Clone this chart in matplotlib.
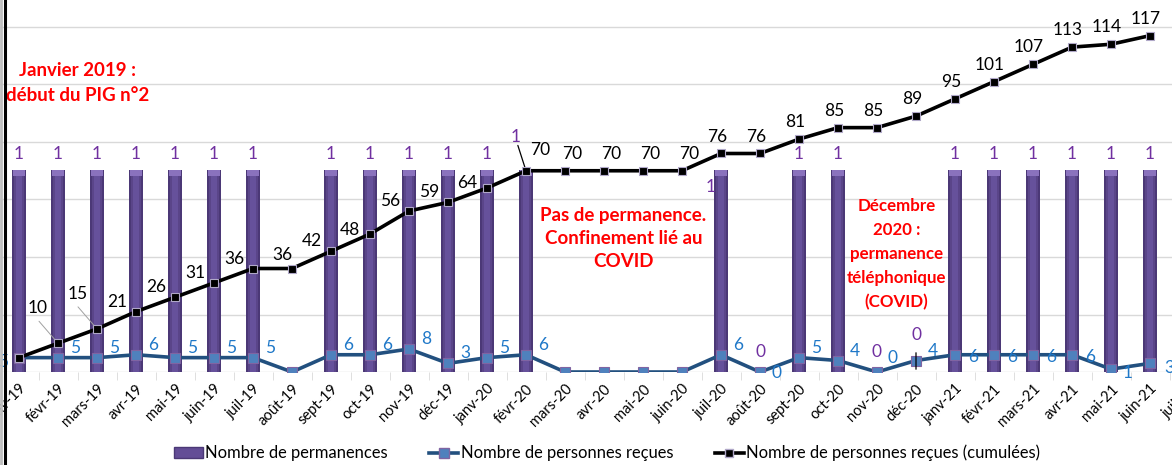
import matplotlib
matplotlib.use("Agg")
import matplotlib.pyplot as plt
import numpy as np
from matplotlib.lines import Line2D
from matplotlib.patches import Patch

plt.rcParams['font.family'] = ['Lato', 'DejaVu Sans']

months = ["janv-19", "févr-19", "mars-19", "avr-19", "mai-19", "juin-19", "juil-19", "août-19",
          "sept-19", "oct-19", "nov-19", "déc-19", "janv-20", "févr-20", "mars-20", "avr-20",
          "mai-20", "juin-20", "juil-20", "août-20", "sept-20", "oct-20", "nov-20", "déc-20",
          "janv-21", "févr-21", "mars-21", "avr-21", "mai-21", "juin-21", "juil-21"]
# None = no value / no label
permanences = [1, 1, 1, 1, 1, 1, 1, None, 1, 1, 1, 1, 1, 1, None, None, None, None,
               1, 0, 1, 1, 0, 0, 1, 1, 1, 1, 1, 1, None]
personnes = [5, 5, 5, 6, 5, 5, 5, 0, 6, 6, 8, 3, 5, 6, 0, 0, 0, 0,
             6, 0, 5, 4, 0, 4, 6, 6, 6, 6, 1, 3]
cumul = [5, 10, 15, 21, 26, 31, 36, 36, 42, 48, 56, 59, 64, 70, 70, 70, 70, 70,
         76, 76, 81, 85, 85, 89, 95, 101, 107, 113, 114, 117]

W, H = 1172, 465
fig = plt.figure(figsize=(W / 100, H / 100), dpi=100)

n = len(months)
x = np.arange(n)
ymax = 140.0
px_per_unit = 2.875
bar_unit = 70.3  # primary-axis value reached by a bar of 1
left_px = 19 - 19.5
ax = fig.add_axes([left_px / W, 93 / H, 39 * n / W, ymax * px_per_unit / H])
ax.set_xlim(-0.5, n - 0.5)
ax.set_ylim(0, ymax / bar_unit)
for s in ax.spines.values():
    s.set_visible(False)
ax.set_yticks(np.arange(0, ymax + 1, 20) / bar_unit)
ax.set_yticklabels([])
ax.tick_params(axis='y', length=0)
ax.grid(axis='y', color='#d9d9d9', linewidth=1.0)
ax.set_axisbelow(True)

# bars (cylinders)
pv = np.array([v if v is not None else 0 for v in permanences], dtype=float)
ax.bar(x, pv, width=0.37, color='#4b3876', zorder=2)
ax.bar(x, pv, width=0.27, color='#5a4589', zorder=2.1)
ax.bar(x, pv, width=0.15, color='#66519b', zorder=2.2)
cap = 0.03
ax.bar(x, np.where(pv > 0, cap, 0), bottom=pv - cap, width=0.33, color='#8a72bd', zorder=2.3)

ax.set_xticks(x)
ax.set_xticklabels(months, rotation=45, ha='right', rotation_mode='anchor', fontsize=10.5)
ax.tick_params(axis='x', which='major', length=0, pad=7)
ax.set_xticks(np.arange(n + 1) - 0.5, minor=True)
ax.tick_params(axis='x', which='minor', length=6, color='#d9d9d9')

purple = '#7030a0'
for i, v in enumerate(permanences):
    if v is None:
        continue
    if v == 1:
        dx, dy = 0, 16
        if i == 13:
            dx, dy = -10, 33
        if i == 18:
            dx, dy = -10, -17
    else:
        dx, dy = 0, 20
        if i == 23:
            dy = 37
    ax.annotate(str(v), (i, v), xytext=(dx, dy), textcoords='offset pixels',
                ha='center', va='center', color=purple, fontsize=12.5)

ax2 = ax.twinx()
ax2.set_ylim(0, ymax)
ax2.set_yticks([])
for s in ax2.spines.values():
    s.set_visible(False)

xp = np.arange(len(personnes))
ax2.plot(xp, personnes, color='#22507f', linewidth=2.6, marker='s', markersize=6.5,
         markerfacecolor='#4f81bd', markeredgecolor='#8064a2', markeredgewidth=0.8, zorder=3)
ax2.plot(xp, cumul, color='black', linewidth=2.6, marker='s', markersize=5.5,
         markerfacecolor='black', markeredgecolor='#b0a8c8', markeredgewidth=0.8, zorder=4)

blue = '#1f78c8'
blue_off = {0: (-16, -4), 19: (17, -1), 22: (16, 14), 28: (17, -4), 29: (19, -5)}
for i, v in enumerate(personnes):
    if v == 0 and i not in (19, 22):
        continue
    dx, dy = (17, 10) if i < 24 else (18, -2)
    dx, dy = blue_off.get(i, (dx, dy))
    ax2.annotate(str(v), (i, v), xytext=(dx, dy), textcoords='offset pixels',
                 ha='center', va='center', color=blue, fontsize=12.5)

cum_off = {1: (-20, 35), 2: (-19, 35), 7: (-10, 14), 9: (-20, 4), 12: (-20, 5),
           13: (14, 21), 14: (7, 17), 15: (7, 17), 16: (7, 17), 17: (7, 17)}
for i, v in enumerate(cumul):
    if i == 0:
        continue
    dx, dy = (-19, 10) if i <= 12 else (-4, 17)
    dx, dy = cum_off.get(i, (dx, dy))
    ax2.annotate(str(v), (i, v), xytext=(dx, dy), textcoords='offset pixels',
                 ha='center', va='center', color='black', fontsize=12.5)

# leader lines
ax2.annotate('', (13, cumul[13]), xytext=(-9, 28), textcoords='offset pixels',
             arrowprops=dict(arrowstyle='-', color='black', lw=0.9))
ax2.annotate('', (23, 0), xytext=(0, 22), textcoords='offset pixels',
             arrowprops=dict(arrowstyle='-', color='black', lw=0.9))
for i in (1, 2):
    ax2.annotate('', (i, cumul[i]), xytext=(-19, 22), textcoords='offset pixels',
                 arrowprops=dict(arrowstyle='-', color='#a0a0a0', lw=0.7,
                                 shrinkA=0, shrinkB=3))

red = '#ff0000'
ax2.text(1.5, 100.5, "Janvier 2019 :\ndébut du PIG n°2", color=red, fontsize=13.5,
         fontweight='bold', ha='center', va='center', linespacing=1.55)
ax2.text(15.5, 46.5, "Pas de permanence.\nConfinement lié au\nCOVID", color=red,
         fontsize=13.5, fontweight='bold', ha='center', va='center', linespacing=1.45)
ax2.text(22.5, 41, "Décembre\n2020 :\npermanence\ntéléphonique\n(COVID)", color=red,
         fontsize=12.2, fontweight='bold', ha='center', va='center', linespacing=1.62)

# left border line
fig.add_artist(Line2D([5 / W, 5 / W], [0, 1], color='black', linewidth=2.2))
fig.add_artist(Line2D([1 / W, 1 / W], [0, 1], color='#bdbdbd', linewidth=2))

handles = [Patch(facecolor='#634d96', edgecolor='#4b3876'),
           Line2D([], [], color='#22507f', lw=2.6, marker='s', markersize=6.5,
                  markerfacecolor='#4f81bd', markeredgecolor='#8064a2'),
           Line2D([], [], color='black', lw=2.6, marker='s', markersize=5.5,
                  markerfacecolor='black', markeredgecolor='#b0a8c8')]
labels = ["Nombre de permanences", "Nombre de personnes reçues",
          "Nombre de personnes reçues (cumulées)"]
fig.legend(handles, labels, loc='center', bbox_to_anchor=(607 / W, 12 / H), ncol=3,
           frameon=False, fontsize=11.9, handlelength=1.75, handletextpad=0.15,
           columnspacing=2.5, handleheight=0.65)

fig.savefig('out.png', dpi=100)
